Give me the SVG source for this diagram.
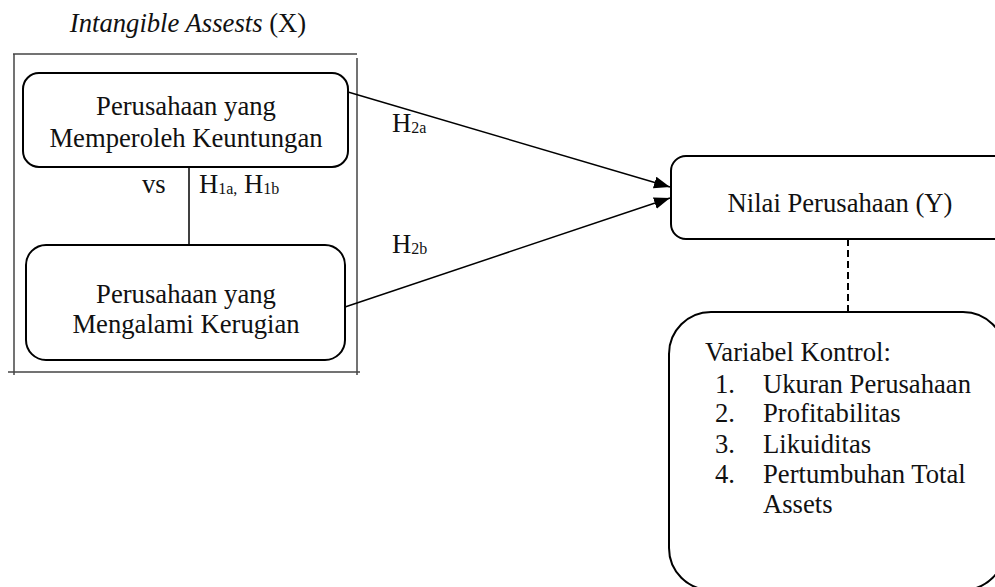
<svg xmlns="http://www.w3.org/2000/svg" width="995" height="587" viewBox="0 0 995 587">
<defs>
<style>
text{font-family:"Liberation Serif","Times New Roman",serif;font-size:26.67px;fill:#111}
.box{fill:#fff;stroke:#000;stroke-width:2}
.frame{stroke:#444;stroke-width:1.5;fill:none}
.conn{stroke:#000;stroke-width:1.5;fill:none}
.sub{font-size:16px}
.c{text-anchor:middle}
</style>
<marker id="ah" markerUnits="userSpaceOnUse" markerWidth="17" markerHeight="13" refX="16" refY="6" orient="auto">
<path d="M0,0 L16,6 L0,12 z" fill="#000"/>
</marker>
</defs>
<rect width="995" height="587" fill="#fff"/>

<g id="title">
<text x="188" y="32" class="c"><tspan font-style="italic">Intangible Assests</tspan> (X)</text>
</g>

<g id="frame">
<line class="frame" x1="13" y1="54" x2="357" y2="54"/>
<line class="frame" x1="14" y1="54" x2="14" y2="375"/>
<line class="frame" x1="357" y1="58" x2="357" y2="375"/>
<line class="frame" x1="8" y1="372" x2="360" y2="372"/>
</g>

<g id="connectors">
<line class="conn" x1="189" y1="167" x2="189" y2="245"/>
<line class="conn" x1="348" y1="92" x2="670" y2="187" marker-end="url(#ah)"/>
<line class="conn" x1="345" y1="307" x2="670" y2="198" marker-end="url(#ah)"/>
<line x1="848" y1="239" x2="848" y2="312" stroke="#000" stroke-width="2" stroke-dasharray="7,4"/>
<text x="142" y="193">vs</text>
<text x="199" y="193">H<tspan class="sub" dy="1">1a,</tspan><tspan dy="-1"> H</tspan><tspan class="sub" dy="1">1b</tspan></text>
<text x="392" y="132">H<tspan class="sub" dy="1">2a</tspan></text>
<text x="392" y="253">H<tspan class="sub" dy="1">2b</tspan></text>
</g>

<g id="node-untung">
<rect class="box" x="23" y="73" width="325" height="94" rx="16"/>
<text x="186" y="115" class="c">Perusahaan yang</text>
<text x="186" y="147" class="c">Memperoleh Keuntungan</text>
</g>

<g id="node-rugi">
<rect class="box" x="26" y="245" width="319" height="115" rx="20"/>
<text x="186" y="303" class="c">Perusahaan yang</text>
<text x="186" y="333" class="c">Mengalami Kerugian</text>
</g>

<g id="node-nilai">
<rect class="box" x="671" y="156" width="345" height="83" rx="15"/>
<text x="840" y="212" class="c">Nilai Perusahaan (Y)</text>
</g>

<g id="node-kontrol">
<rect class="box" x="669" y="312" width="336" height="278" rx="42"/>
<text x="705" y="361">Variabel Kontrol:</text>
<text x="715" y="393">1.</text><text x="763" y="393">Ukuran Perusahaan</text>
<text x="715" y="422">2.</text><text x="763" y="422">Profitabilitas</text>
<text x="715" y="452.5">3.</text><text x="763" y="452.5">Likuiditas</text>
<text x="715" y="483">4.</text><text x="763" y="483">Pertumbuhan Total</text>
<text x="763" y="513">Assets</text>
</g>
</svg>
